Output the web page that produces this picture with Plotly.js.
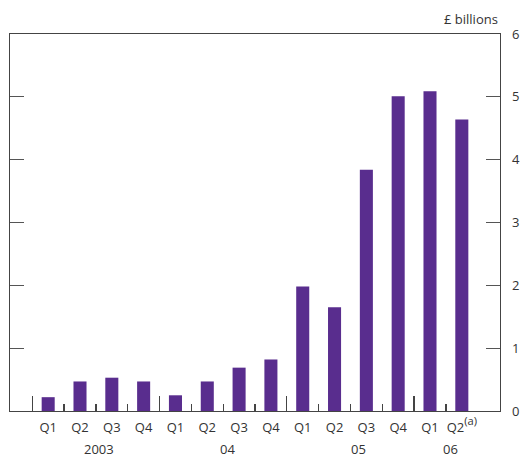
<!DOCTYPE html>
<html><head><meta charset="utf-8">
<script src="https://cdn.plot.ly/plotly-3.0.1.min.js"></script>
<style>html,body{margin:0;padding:0;background:#fff}#c{width:524px;height:457px}</style>
</head><body><div id="c"></div>
<script>
const quarters = ["Q1","Q2","Q3","Q4","Q1","Q2","Q3","Q4","Q1","Q2","Q3","Q4","Q1","Q2<span style='font-size:16px'><sup>(a)</sup></span>"];
const values = [0.22,0.47,0.53,0.47,0.25,0.47,0.69,0.82,1.98,1.65,3.84,5.01,5.09,4.64];
const years = ["2003","04","05","06"];
const yearLabelPos = [1.6,5.65,9.75,12.65];
const quarterBoundaries = [0.5,1.5,2.5,4.5,5.5,6.5,8.5,9.5,10.5,12.5];
const yearBoundaries = [-0.5,3.5,7.5,11.5];

const xIdx = quarters.map((_,i)=>i);
const font = {family:"Open Sans, Noto Sans, sans-serif", size:13, color:"#333"};
const xr = [-1.2, 14.2];
const plotH = 457-34-46;

const data = [{
  type:"bar", x:xIdx, y:values, marker:{color:"#592d8e"}, width:0.41,
  hoverinfo:"skip"
}];

const annotations = years.map((t,i)=>({text:t, x:yearLabelPos[i], xref:"x",
  y:-((449-411)/plotH), yref:"paper", yanchor:"middle", xanchor:"center",
  showarrow:false, font:font}));
annotations.push({text:"£ billions", x:1, xref:"paper", xanchor:"right",
  y:1 + (34-19)/plotH, yref:"paper", yanchor:"middle", showarrow:false, font:font});

const layout = {
  width:524, height:457,
  margin:{l:10, r:24, t:34, b:46},
  paper_bgcolor:"#fff", plot_bgcolor:"#fff",
  font:font, showlegend:false,
  xaxis:{type:"linear", range:xr, tickvals:xIdx, ticktext:quarters, ticks:"",
    showgrid:false, zeroline:false, showline:true, linecolor:"#444", linewidth:1.3,
    mirror:true, tickfont:font, ticklabelstandoff:4, fixedrange:true},
  xaxis2:{overlaying:"x", type:"linear", range:xr, tickvals:quarterBoundaries,
    ticks:"inside", ticklen:7, tickcolor:"#444", tickwidth:1.3, showticklabels:false,
    showgrid:false, zeroline:false, showline:false, anchor:"y"},
  xaxis3:{overlaying:"x", type:"linear", range:xr, tickvals:yearBoundaries,
    ticks:"inside", ticklen:15, tickcolor:"#444", tickwidth:1.3, showticklabels:false,
    showgrid:false, zeroline:false, showline:false, anchor:"y"},
  yaxis:{side:"right", range:[0,6], dtick:1, ticks:"inside", ticklen:14, tickcolor:"#555",
    tickwidth:1.3, showgrid:false, zeroline:false, showline:true, linecolor:"#444",
    linewidth:1.3, mirror:"ticks", tickfont:font, ticklabelstandoff:8, fixedrange:true},
  annotations:annotations
};

data.push({type:"scatter", x:[0], y:[0], xaxis:"x2", yaxis:"y", mode:"markers", marker:{opacity:0}, hoverinfo:"skip"});
data.push({type:"scatter", x:[0], y:[0], xaxis:"x3", yaxis:"y", mode:"markers", marker:{opacity:0}, hoverinfo:"skip"});

Plotly.newPlot("c", data, layout, {staticPlot:true, displayModeBar:false});
</script></body></html>
